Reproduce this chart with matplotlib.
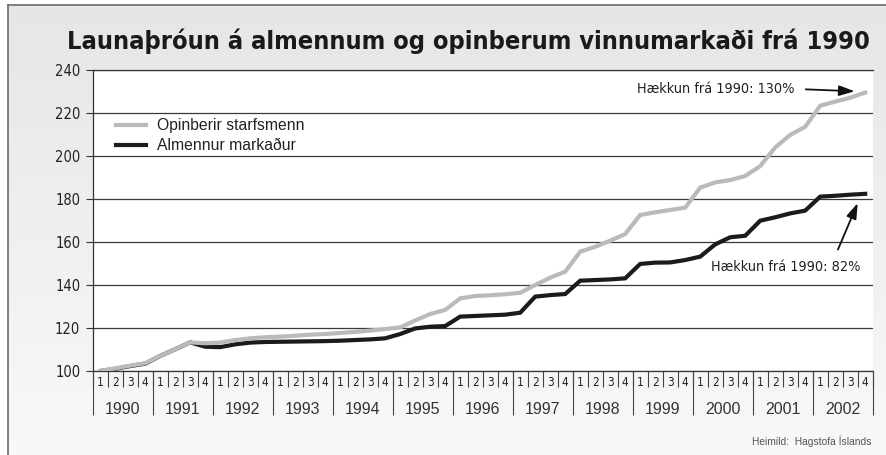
import numpy as np
import matplotlib
matplotlib.use('Agg')
import matplotlib.pyplot as plt
from matplotlib.lines import Line2D
from matplotlib import font_manager as fm

# ---------------- data ----------------
years = list(range(1990, 2003))
quarters = ['1', '2', '3', '4']

opinberir = [100.1, 101.2, 102.5, 103.6,
             107.0, 110.1, 113.3, 112.9,
             113.2, 114.4, 115.2, 115.7,
             116.0, 116.4, 116.9, 117.2,
             117.7, 118.2, 118.8, 119.5,
             120.3, 123.5, 126.5, 128.4,
             133.8, 134.9, 135.2, 135.7,
             136.4, 140.0, 143.4, 146.2,
             155.5, 157.8, 160.6, 163.7,
             172.6, 173.8, 174.9, 176.0,
             185.3, 187.7, 188.8, 190.7,
             195.3, 204.0, 209.8, 213.6,
             223.4, 225.3, 227.1, 229.5]

almennur = [100.0, 101.0, 102.3, 103.4,
            107.0, 110.1, 113.3, 111.3,
            111.1, 112.4, 113.2, 113.5,
            113.6, 113.7, 113.8, 113.9,
            114.1, 114.4, 114.7, 115.2,
            117.2, 119.8, 120.6, 120.9,
            125.3, 125.6, 125.9, 126.2,
            127.1, 134.6, 135.3, 135.8,
            142.0, 142.3, 142.6, 143.1,
            149.8, 150.4, 150.5, 151.6,
            153.2, 158.9, 162.2, 162.9,
            169.9, 171.5, 173.3, 174.6,
            181.1, 181.5, 182.0, 182.4]

series_names = ['Opinberir starfsmenn', 'Almennur markaður']
title = 'Launaþróun á almennum og opinberum vinnumarkaði frá 1990'
note_public = 'Hækkun frá 1990: 130%'
note_private = 'Hækkun frá 1990: 82%'
source = 'Heimild:  Hagstofa Íslands'
yticks = [100, 120, 140, 160, 180, 200, 220, 240]

# condensed font if available
names = {f.name for f in fm.fontManager.ttflist}
if 'Liberation Sans Narrow' in names:
    NARROW = dict(fontfamily='Liberation Sans Narrow')
elif 'DejaVu Sans Condensed' in names:
    NARROW = dict(fontfamily='DejaVu Sans Condensed')
else:
    NARROW = dict(fontfamily='DejaVu Sans', fontstretch='condensed')
REG = ['Liberation Sans', 'DejaVu Sans']

W, H = 887, 455
fig = plt.figure(figsize=(W / 100, H / 100), dpi=100)
fig.patch.set_facecolor('white')

# background gradient frame
bg = fig.add_axes([8 / W, 0, 1 - 8 / W, 1 - 5 / H], zorder=-10)
grad = np.linspace(0, 1, 256).reshape(-1, 1)
top_c = np.array([0.898, 0.902, 0.906])
bot_c = np.array([0.975, 0.975, 0.975])
img = top_c[None, None, :] * (1 - grad[:, :, None]) + bot_c[None, None, :] * grad[:, :, None]
bg.imshow(img, aspect='auto', extent=[0, 1, 0, 1], origin='upper')
bg.set_axis_off()
fig.add_artist(Line2D([8 / W, 8 / W], [0, 1 - 5 / H], transform=fig.transFigure,
                      color='#6a6a6a', lw=1.2))
fig.add_artist(Line2D([8 / W, 1], [1 - 5 / H, 1 - 5 / H], transform=fig.transFigure,
                      color='#6a6a6a', lw=1.2))

# main axes
left, right = 92.7 / W, 872.7 / W
bottom, top = 1 - 371 / H, 1 - 70 / H
ax = fig.add_axes([left, bottom, right - left, top - bottom])
ax.set_facecolor('white')

n = len(opinberir)
x = np.arange(n) + 0.5
ax.plot(x, almennur, color='#1c1a1a', lw=3.0, solid_joinstyle='miter', zorder=3,
        label=series_names[1])
ax.plot(x, opinberir, color='#bababa', lw=3.0, solid_joinstyle='miter', zorder=4,
        label=series_names[0])

ax.set_xlim(0, n)
ax.set_ylim(yticks[0], yticks[-1])
ax.set_yticks(yticks)
ax.set_yticklabels([str(v) for v in yticks], fontsize=10.5, color='#222', **NARROW)
ax.yaxis.grid(True, color='#3a3a3a', lw=0.9)
ax.set_axisbelow(True)
ax.tick_params(axis='y', length=5.4, width=0.8, color='#333', pad=3.6)

ax.spines['right'].set_visible(False)
for s in ['left', 'bottom', 'top']:
    ax.spines[s].set_color('#333')
    ax.spines[s].set_linewidth(0.9)

# quarter labels
ax.set_xticks(x)
ax.set_xticklabels([quarters[i % 4] for i in range(n)], fontsize=8.5, color='#222', **NARROW)
ax.set_xticks(np.arange(n + 1), minor=True)
ax.tick_params(axis='x', which='major', length=0, pad=3.5)
ax.tick_params(axis='x', which='minor', length=11.5, width=0.8, color='#444')

# year labels
sec = ax.secondary_xaxis('bottom')
sec.set_xticks(np.arange(2, n, 4))
sec.set_xticklabels([str(y) for y in years], fontfamily=REG, fontsize=11.5, color='#333')
sec.set_xticks(np.arange(0, n + 1, 4), minor=True)
sec.tick_params(axis='x', which='major', length=0, pad=22)
sec.tick_params(axis='x', which='minor', length=32, width=0.8, color='#444')
sec.spines['bottom'].set_visible(False)

# legend
handles, labels = ax.get_legend_handles_labels()
leg = ax.legend(handles[::-1], labels[::-1], loc='upper left',
                bbox_to_anchor=((116 - 92.7) / 780, (371 - 118) / 301),
                frameon=False, borderpad=0, borderaxespad=0,
                handlelength=1.9, handletextpad=0.7, labelspacing=0.33,
                prop={'family': REG, 'size': 11.3})
for t in leg.get_texts():
    t.set_color('#222')

# annotations
ax.annotate(note_public, xy=(x[-1] - 0.7, opinberir[-1] + 0.6),
            xytext=(46.8, 231.2), ha='right', va='center',
            fontsize=10.4, color='#222', **NARROW,
            arrowprops=dict(arrowstyle='-|>,head_length=0.9,head_width=0.3',
                            color='#111', lw=1.3, relpos=(1.0, 0.5),
                            shrinkA=6, shrinkB=0))
ax.annotate(note_private, xy=(x[-1] - 0.5, almennur[-1] - 4.3),
            xytext=(46.2, 148.4), ha='center', va='center',
            fontsize=10.4, color='#222', **NARROW,
            arrowprops=dict(arrowstyle='-|>,head_length=0.9,head_width=0.3',
                            color='#111', lw=1.3, relpos=(0.82, 1.0),
                            shrinkA=6, shrinkB=0))

# title (fit to reference width) & source
t = fig.text(468.5 / W, 1 - 41 / H, title, ha='center', va='center',
             fontweight='bold', fontsize=21, color='#1a1a1a', **NARROW)
fig.canvas.draw()
wpx = t.get_window_extent().width
t.set_fontsize(21 * 803 / wpx)
fig.text(872 / W, 1 - 441 / H, source, ha='right', va='center',
         fontfamily=REG, fontsize=7.4, color='#555')

fig.savefig('out.png', dpi=100, facecolor=fig.get_facecolor())
